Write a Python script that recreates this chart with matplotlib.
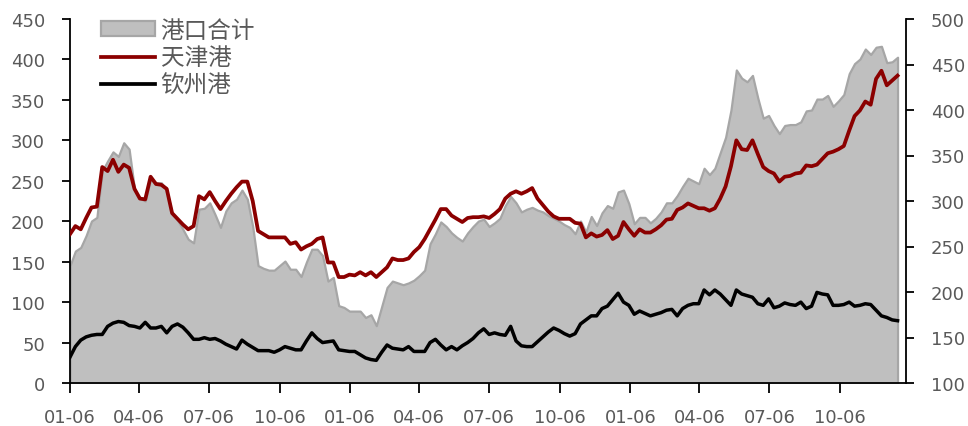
import matplotlib
matplotlib.use("Agg")
import matplotlib.pyplot as plt
import matplotlib.dates as mdates
from matplotlib.patches import Patch
from matplotlib.lines import Line2D
import pandas as pd
import numpy as np

# ---------------- data ----------------
start_date = "2021-01-06"
n_weeks = 155

tianjin = [184, 194, 190, 204, 217, 218, 267, 262, 276, 261, 270, 266, 240, 228, 227, 255, 246, 245, 240, 210,
           203, 196, 190, 194, 231, 227, 236,
           225, 215, 225, 234, 242, 249, 249, 225, 188, 184, 180, 180, 180, 180, 172, 174, 165, 169, 172, 178,
           180, 149, 149, 131, 131, 134,
           133, 137, 133, 137, 131, 137, 143, 154, 152, 152, 154, 162, 168, 178, 190, 202, 215, 215, 207, 203,
           199, 204, 205, 205, 206, 204,
           209, 215, 228, 234, 237, 234, 237, 241, 228, 220, 212, 206, 203, 203, 203, 198, 197, 180, 185, 181,
           183, 189, 178, 182, 199, 190,
           182, 190, 186, 186, 190, 195, 202, 203, 214, 217, 222, 219, 216, 216, 213, 216, 228, 243, 268, 300,
           289, 288, 300, 283, 267, 262,
           259, 249, 255, 256, 259, 260, 269, 268, 270, 277, 284, 286, 289, 293, 312, 330, 337, 348, 344, 376,
           386, 368, 374, 380]

qinzhou = [32, 45, 53, 57, 59, 60, 60, 70, 74, 76, 75, 71, 70, 68, 75, 68, 68, 70, 62, 70, 73, 69, 62, 54, 54, 56,
           54, 55, 52, 48, 45, 42, 53, 48, 44, 40, 40, 40, 38, 41, 45, 43, 41, 41, 52, 62, 55, 50, 51, 52, 41, 40, 39,
           39, 35, 31, 29, 28, 38, 47, 43, 42, 41, 45, 39, 39, 39, 50, 54, 47, 41, 45, 41, 46, 50, 55, 62, 67, 60,
           62, 60, 59, 70, 52, 46, 45, 45, 51, 57, 63, 68, 65, 61, 58, 61, 73, 78, 83, 83, 92, 95, 103, 111, 100, 96,
           85, 89, 86, 83, 85, 87, 90, 91, 83, 92, 96, 98, 98, 115, 109, 115, 110, 103, 96, 115, 110, 108, 106, 98,
           96, 104,
           93, 95, 99, 97, 96, 100, 92, 95, 112, 110, 109, 96, 96, 97, 100, 95, 96, 98, 97, 90, 83, 81, 78, 77]

total = [229, 245, 249, 262, 278, 282, 333, 344, 354, 349, 364, 357, 313, 303, 300, 324, 320, 320, 312, 286,
         279, 269, 258, 254, 291, 292, 298,
         285, 271, 289, 298, 302, 312, 302, 272, 229, 226, 224, 224, 229, 234, 225, 225, 217, 233, 247, 247,
         240, 212, 216, 185, 183, 179,
         179, 179, 172, 175, 163, 184, 205, 212, 210, 208, 210, 213, 218, 224, 253, 264, 277, 272, 265, 260,
         256, 265, 272, 278, 280, 272,
         276, 281, 295, 305, 298, 288, 291, 293, 290, 288, 284, 281, 278, 274, 271, 264, 278, 266, 283, 273,
         287, 295, 292, 310, 312, 297,
         275, 282, 282, 276, 281, 288, 298, 298, 306, 316, 325, 322, 319, 336, 329, 336, 353, 370, 400, 444,
         435, 431, 438, 413, 391, 394,
         383, 374, 383, 384, 384, 387, 399, 400, 412, 412, 416, 404, 410, 417, 440, 451, 456, 467, 461, 469,
         470, 452, 453, 458]

labels = ["港口合计", "天津港", "钦州港"]
left_ticks = [0, 50, 100, 150, 200, 250, 300, 350, 400, 450]
right_ticks = [100, 150, 200, 250, 300, 350, 400, 450, 500]

dates = pd.date_range(start_date, periods=n_weeks, freq="7D")

# ---------------- style ----------------
RED = "#8B0000"
BLACK = "#000000"
FILL = "#BFBFBF"
EDGE = "#A6A6A6"
TXT = "#595959"

plt.rcParams["font.family"] = ["DejaVu Sans"]

fig = plt.figure(figsize=(9.68, 4.27), dpi=100)
ax = fig.add_axes([70 / 968, 1 - 384 / 427, (906 - 70) / 968, (384 - 20) / 427])
ax2 = ax.twinx()

# area on right axis
ax2.fill_between(dates, 100, total, facecolor=FILL, edgecolor=EDGE, linewidth=1.6, zorder=1)
ax2.set_ylim(100, 500)
ax2.set_yticks(right_ticks)

# lines on left axis
ax.plot(dates, tianjin, color=RED, linewidth=2.7, solid_joinstyle="round", zorder=3)
ax.plot(dates, qinzhou, color=BLACK, linewidth=2.5, solid_joinstyle="round", zorder=3)
ax.set_ylim(0, 450)
ax.set_yticks(left_ticks)

ax.set_zorder(ax2.get_zorder() + 1)
ax.patch.set_visible(False)

x0 = pd.Timestamp(start_date)
ax.set_xlim(x0, x0 + pd.Timedelta(days=1089))
ax.xaxis.set_major_locator(mdates.MonthLocator(bymonth=[1, 4, 7, 10], bymonthday=6))
ax.xaxis.set_major_formatter(mdates.DateFormatter("%m-%d"))

for a in (ax, ax2):
    a.spines["top"].set_visible(False)
    for s in ("left", "right", "bottom"):
        a.spines[s].set_color("black")
        a.spines[s].set_linewidth(1.3)

ax.spines["right"].set_visible(False)
ax2.spines["left"].set_visible(False)
ax2.spines["bottom"].set_visible(False)

ax.tick_params(axis="y", direction="out", length=6, width=1.3, pad=12, labelsize=13, labelcolor=TXT)
ax.tick_params(axis="x", direction="out", length=7, width=1.3, pad=11, labelsize=13, labelcolor=TXT)
ax2.tick_params(axis="y", direction="out", length=6, width=1.3, pad=12, labelsize=13, labelcolor=TXT)

handles = [Patch(facecolor=FILL, edgecolor=EDGE, linewidth=1.6),
           Line2D([], [], color=RED, linewidth=2.7),
           Line2D([], [], color=BLACK, linewidth=2.7)]
leg = ax.legend(handles, labels, loc="upper left", bbox_to_anchor=(31 / 836, 1.0),
                frameon=False, borderpad=0, borderaxespad=0, handlelength=2.3, handleheight=0.62,
                handletextpad=0.22, labelspacing=0.19,
                prop={"family": ["Noto Sans CJK SC", "DejaVu Sans"], "size": 17})
for t in leg.get_texts():
    t.set_color(TXT)

fig.savefig("out.png", dpi=100)
